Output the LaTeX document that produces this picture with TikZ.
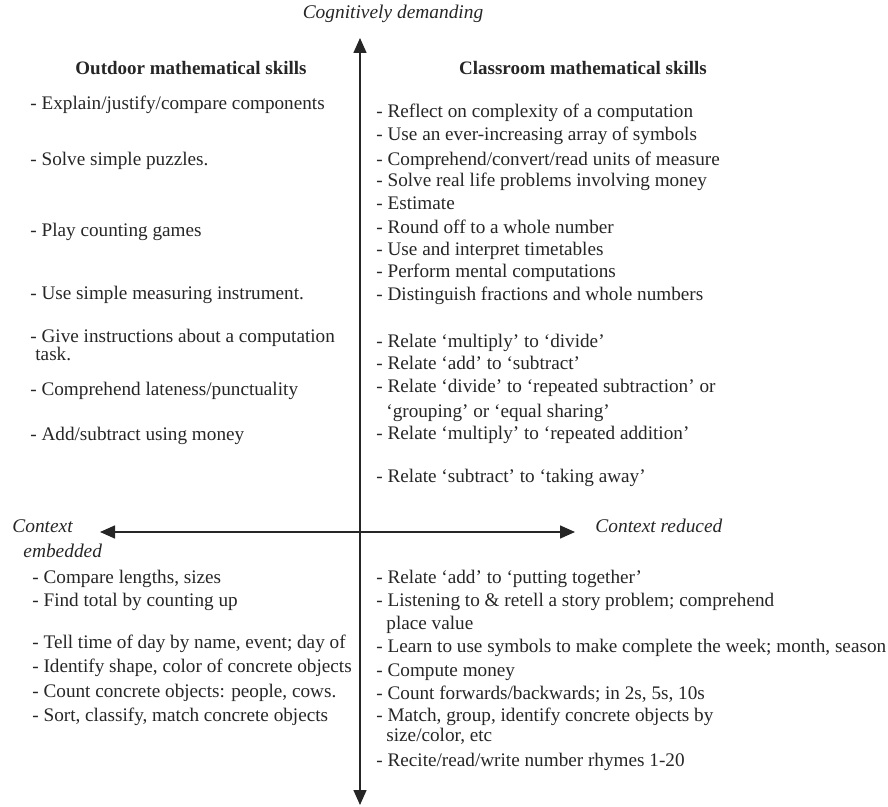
\documentclass[tikz,border=0pt]{standalone}
\usepackage{fontspec}
\setmainfont{Liberation Serif}
\usetikzlibrary{arrows.meta}
\tikzset{
  voce/.style   = {anchor=base west, inner sep=0pt, text=black!85, font=\fontsize{9.6}{11}\selectfont},
  titolo/.style = {anchor=base, inner sep=0pt, text=black!85, font=\fontsize{9.5}{11}\selectfont\bfseries},
  asse/.style   = {line width=0.75pt, draw=black!85, {Triangle[length=7.5pt,width=6.5pt]}-{Triangle[length=7.5pt,width=6.5pt]}},
  polo/.style   = {inner sep=0pt, text=black!85, font=\fontsize{9.7}{11}\selectfont\itshape}
}
\begin{document}
\begin{tikzpicture}[x=0.5pt,y=-0.5pt]
  \useasboundingbox (0,0) rectangle (888,807);
  % assi: domanda cognitiva (verticale) e contesto (orizzontale)
  \coordinate (alto) at (360,38);  \coordinate (basso) at (360,805);
  \coordinate (sx) at (100,532);   \coordinate (dx) at (575,532);
  \draw[asse] (basso) -- (alto);
  \draw[asse] (sx) -- (dx);
  \node[polo,anchor=base] (cd) at (393,19) {Cognitively demanding};
  \node[polo,anchor=base west] (ce1) at (12,532) {Context};
  \node[polo,anchor=base west] (ce2) at (23,557) {embedded};
  \node[polo,anchor=base west] (cr) at (595,532) {Context reduced};
  \node[titolo] (out) at (191,75) {Outdoor mathematical skills};
  \node[titolo] (cls) at (583,75) {Classroom mathematical skills};
  % quadrante in alto a sinistra
  \node[voce] (l1) at (30,110) {- Explain/justify/compare components};
  \node[voce] (l2) at (30,166) {- Solve simple puzzles.};
  \node[voce] (l3) at (30,237) {- Play counting games};
  \node[voce] (l4) at (30,300) {- Use simple measuring instrument.};
  \node[voce] (l5) at (30,343) {- Give instructions about a computation};
  \node[voce] (l5b) at (35,361) {task.};
  \node[voce] (l6) at (30,395) {- Comprehend lateness/punctuality};
  \node[voce] (l7) at (30,440) {- Add/subtract using money};
  % quadrante in alto a destra
  \node[voce] (r1) at (376,118) {- Reflect on complexity of a computation};
  \node[voce] (r2) at (376,141) {- Use an ever-increasing array of symbols};
  \node[voce] (r3) at (376,166) {- Comprehend/convert/read units of measure};
  \node[voce] (r4) at (376,187) {- Solve real life problems involving money};
  \node[voce] (r5) at (376,210) {- Estimate};
  \node[voce] (r6) at (376,234) {- Round off to a whole number};
  \node[voce] (r7) at (376,256) {- Use and interpret timetables};
  \node[voce] (r8) at (376,278) {- Perform mental computations};
  \node[voce] (r9) at (376,301) {- Distinguish fractions and whole numbers};
  \node[voce] (r10) at (376,348) {- Relate `multiply' to `divide'};
  \node[voce] (r11) at (376,370) {- Relate `add' to `subtract'};
  \node[voce] (r12) at (376,393) {- Relate `divide' to `repeated subtraction' or};
  \node[voce] (r12b) at (386,417) {`grouping' or `equal sharing'};
  \node[voce] (r13) at (376,439) {- Relate `multiply' to `repeated addition'};
  \node[voce] (r14) at (376,482) {- Relate `subtract' to `taking away'};
  % quadrante in basso a sinistra
  \node[voce] (b1) at (32,583) {- Compare lengths, sizes};
  \node[voce] (b2) at (32,606) {- Find total by counting up};
  \node[voce] (b3) at (32,648) {- Tell time of day by name, event; day of};
  \node[voce] (b4) at (32,672) {- Identify shape, color of concrete objects};
  \node[voce] (b5) at (32,697) {- Count concrete objects: people, cows.};
  \node[voce] (b6) at (32,721) {- Sort, classify, match concrete objects};
  % quadrante in basso a destra
  \node[voce] (c1) at (376,583) {- Relate `add' to `putting together'};
  \node[voce] (c2) at (376,606) {- Listening to \& retell a story problem; comprehend};
  \node[voce] (c2b) at (386,629) {place value};
  \node[voce] (c3) at (376,652) {- Learn to use symbols to make complete the week; month, season};
  \node[voce] (c4) at (376,676) {- Compute money};
  \node[voce] (c5) at (376,699) {- Count forwards/backwards; in 2s, 5s, 10s};
  \node[voce] (c6) at (376,721) {- Match, group, identify concrete objects by};
  \node[voce] (c6b) at (386,741) {size/color, etc};
  \node[voce] (c7) at (376,766) {- Recite/read/write number rhymes 1-20};
\end{tikzpicture}
\end{document}
